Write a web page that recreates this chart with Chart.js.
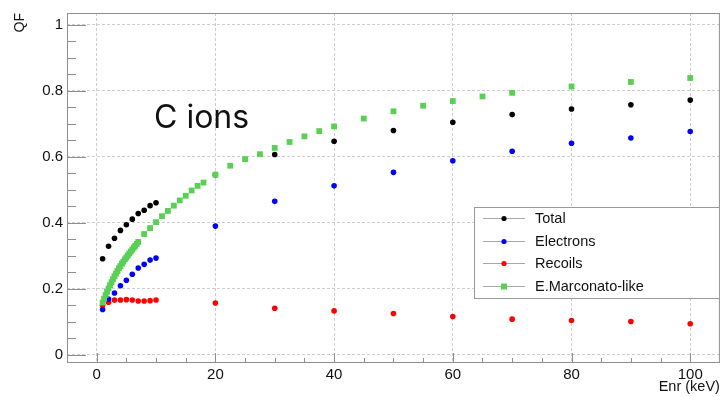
<!DOCTYPE html>
<html><head><meta charset="utf-8">
<script src="https://cdn.jsdelivr.net/npm/chart.js@4.4.0/dist/chart.umd.min.js"></script>
<style>html,body{margin:0;padding:0;background:#fff;}canvas{display:block;}</style>
</head><body>
<canvas id="c" width="724" height="397"></canvas>
<script>
// ---- data ----
const energiesMain = [1,2,3,4,5,6,7,8,9,10,20,30,40,50,60,70,80,90,100];
const totalQF     = [0.291,0.329,0.353,0.377,0.394,0.411,0.428,0.438,0.452,0.461,0.546,0.607,0.647,0.680,0.705,0.728,0.745,0.758,0.772];
const electronsQF = [0.137,0.169,0.187,0.209,0.226,0.244,0.263,0.274,0.287,0.293,0.390,0.465,0.512,0.553,0.588,0.617,0.641,0.657,0.677];
const recoilsQF   = [0.150,0.159,0.166,0.166,0.167,0.166,0.163,0.163,0.164,0.166,0.157,0.141,0.133,0.125,0.116,0.108,0.104,0.101,0.094];
const energiesMarconato = [1,1.25,1.5,1.75,2,2.25,2.5,2.75,3,3.25,3.5,3.75,4,4.25,4.5,4.75,5,5.25,5.5,5.75,6,6.25,6.5,6.75,7,
  8,9,10,11,12,13,14,15,16,17,18,20,22.5,25,27.5,30,32.5,35,37.5,40,45,50,55,60,65,70,80,90,100];
const marconatoQF = [0.158,0.170,0.181,0.191,0.201,0.211,0.220,0.229,0.238,0.246,0.254,0.262,0.269,0.276,0.282,0.289,0.295,0.301,0.307,0.313,0.319,0.325,0.330,0.336,0.342,
  0.366,0.384,0.402,0.420,0.436,0.452,0.468,0.482,0.498,0.512,0.522,0.546,0.573,0.593,0.608,0.627,0.645,0.662,0.678,0.692,0.716,0.738,0.755,0.769,0.783,0.794,0.813,0.827,0.839];
const xTickValues = [0,20,40,60,80,100];
const xTickLabels = ['0','20','40','60','80','100'];
const yTickValues = [0,0.2,0.4,0.6,0.8,1];
const yTickLabels = ['0','0.2','0.4','0.6','0.8','1'];
const seriesNames = ['Total','Electrons','Recoils','E.Marconato-like'];
const annotationText = 'C ions';

const pts = (xs, ys) => xs.map((x, i) => ({x: x, y: ys[i]}));
const GREEN = '#59cf54';
const FONT = '"Liberation Sans", Arial, sans-serif';

const rootPlugin = {
  id: 'rootStyle',
  afterDraw(chart) {
    const ctx = chart.ctx, a = chart.chartArea;
    const xs = chart.scales.x, ys = chart.scales.y;
    ctx.save();
    // frame
    ctx.strokeStyle = '#8f8f8f'; ctx.lineWidth = 1;
    ctx.strokeRect(a.left + 0.5, a.top + 0.5, a.right - a.left - 1, a.bottom - a.top - 1);
    // x ticks (inward)
    ctx.beginPath();
    for (let v = -5; v <= 105; v += 5) {
      const px = Math.round(xs.getPixelForValue(v)) + 0.5;
      if (px < a.left || px > a.right) continue;
      const len = (v % 20 === 0) ? 10 : 5;
      ctx.moveTo(px, a.bottom); ctx.lineTo(px, a.bottom - len);
    }
    // y ticks (inward)
    for (let k = 0; k <= 20; k++) {
      const v = k * 0.05;
      const py = Math.round(ys.getPixelForValue(v)) + 0.5;
      const len = (k % 4 === 0) ? 19 : 9;
      ctx.moveTo(a.left, py); ctx.lineTo(a.left + len, py);
    }
    ctx.stroke();

    // annotation
    ctx.fillStyle = '#111';
    ctx.font = '400 32px Inter, "Open Sans", sans-serif';
    ctx.textBaseline = 'alphabetic'; ctx.textAlign = 'left';
    ctx.fillText(annotationText, 154, 128);

    // legend
    const lx = 474, ly = 207, lw = 245, lh = 91;
    ctx.fillStyle = '#fff';
    ctx.fillRect(lx, ly, lw, lh);
    ctx.strokeStyle = '#9a9a9a';
    ctx.strokeRect(lx + 0.5, ly + 0.5, lw, lh);
    ctx.font = '14.5px ' + FONT;
    ctx.textBaseline = 'middle';
    chart.data.datasets.forEach((ds, i) => {
      const cy = Math.round(ly + 11 + i * 22.7) + 0.5;
      ctx.strokeStyle = '#a8a8a8'; ctx.lineWidth = 1;
      ctx.beginPath(); ctx.moveTo(483, cy); ctx.lineTo(525, cy); ctx.stroke();
      ctx.fillStyle = ds.backgroundColor;
      if (ds.pointStyle === 'rect') {
        ctx.fillRect(504 - 3, cy - 3, 6, 6);
      } else {
        ctx.beginPath(); ctx.arc(504, cy, 2.6, 0, Math.PI * 2); ctx.fill();
      }
      ctx.fillStyle = '#111';
      ctx.fillText(ds.label, 535, cy + 0.5);
    });
    ctx.restore();
  }
};

new Chart(document.getElementById('c'), {
  type: 'scatter',
  data: {
    datasets: [
      {label: seriesNames[0], data: pts(energiesMain, totalQF), backgroundColor: '#000000', borderColor: '#000000', pointStyle: 'circle', pointRadius: 2.8, borderWidth: 0, order: 1},
      {label: seriesNames[1], data: pts(energiesMain, electronsQF), backgroundColor: '#0000ff', borderColor: '#0000ff', pointStyle: 'circle', pointRadius: 2.8, borderWidth: 0, order: 1},
      {label: seriesNames[2], data: pts(energiesMain, recoilsQF), backgroundColor: '#ff0000', borderColor: '#ff0000', pointStyle: 'circle', pointRadius: 2.8, borderWidth: 0, order: 1},
      {label: seriesNames[3], data: pts(energiesMarconato, marconatoQF), backgroundColor: GREEN, borderColor: GREEN, pointStyle: 'rect', pointRadius: 4.1, borderWidth: 0, order: 0}
    ]
  },
  options: {
    responsive: false,
    animation: false,
    devicePixelRatio: 1,
    layout: {padding: {top: 12, right: 3, left: 0, bottom: 0}},
    plugins: {legend: {display: false}, tooltip: {enabled: false}},
    scales: {
      x: {
        type: 'linear', min: -5, max: 105,
        afterBuildTicks: s => { s.ticks = xTickValues.map(v => ({value: v})); },
        afterFit: s => { s.height = 34; },
        ticks: {autoSkip: false, maxRotation: 0, padding: 3, color: '#111', font: {family: FONT, size: 15},
                callback: (v, i) => xTickLabels[i]},
        grid: {color: '#cdcdcd', lineWidth: 1, drawTicks: false},
        border: {display: false, dash: [3, 2]},
        title: {display: true, text: 'Enr (keV)', align: 'end', color: '#111', font: {family: FONT, size: 14.5}, padding: {top: 0, bottom: 1}}
      },
      y: {
        type: 'linear', min: -0.025, max: 1.036,
        afterBuildTicks: s => { s.ticks = yTickValues.map(v => ({value: v})); },
        afterFit: s => { s.width = 67; },
        ticks: {autoSkip: false, padding: 4, color: '#111', font: {family: FONT, size: 15},
                callback: (v, i) => yTickLabels[i]},
        grid: {color: '#cdcdcd', lineWidth: 1, drawTicks: false},
        border: {display: false, dash: [3, 2]},
        title: {display: true, text: 'QF', align: 'end', color: '#111', font: {family: FONT, size: 14}, padding: {top: 12, bottom: 0}}
      }
    }
  },
  plugins: [rootPlugin]
});
</script>
</body></html>
